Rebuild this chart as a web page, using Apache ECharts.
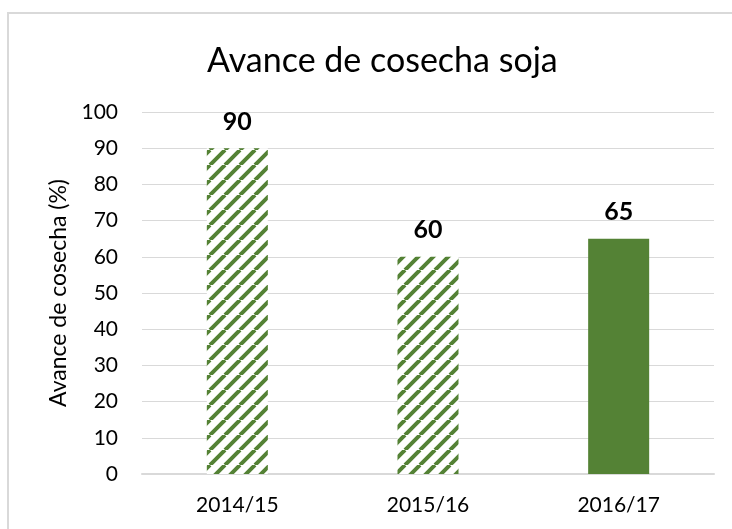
<!DOCTYPE html>
<html>
<head>
<meta charset="utf-8">
<script src="https://cdn.jsdelivr.net/npm/echarts@6/dist/echarts.min.js"></script>
<style>
  html, body { margin: 0; padding: 0; background: #fff; }
  #chart { width: 732px; height: 529px; }
</style>
</head>
<body>
<div id="chart"></div>
<script>
const categories = ['2014/15', '2015/16', '2016/17'];
const values = [90, 60, 65];
const hatched = [true, true, false];

const green = '#548235';

// diagonal stripe tile for the hatched bars
function stripeTile() {
  const n = 15;
  const c = document.createElement('canvas');
  c.width = n; c.height = n;
  const ctx = c.getContext('2d');
  ctx.fillStyle = '#fff';
  ctx.fillRect(0, 0, n, n);
  ctx.strokeStyle = green;
  ctx.lineWidth = 4;
  ctx.beginPath();
  for (let k = -n; k <= n; k += n) {
    ctx.moveTo(k, n);
    ctx.lineTo(k + n, 0);
  }
  ctx.stroke();
  return c;
}
const tile = stripeTile();

const myChart = echarts.init(document.getElementById('chart'));
const font = 'Lato, "Open Sans", sans-serif';

const option = {
  backgroundColor: '#fff',
  textStyle: { fontFamily: font },
  graphic: [{
    type: 'rect',
    shape: { x: 8, y: 13, width: 740, height: 530 },
    style: { fill: 'none', stroke: '#d9d9d9', lineWidth: 2 },
    silent: true
  }],
  title: {
    text: 'Avance de cosecha soja',
    left: 202,
    top: 39,
    textStyle: { fontFamily: font, fontWeight: 'normal', fontSize: 34, color: '#000' }
  },
  grid: { left: 142, right: 18, top: 112, bottom: 55 },
  xAxis: {
    type: 'category',
    data: categories,
    axisLine: { lineStyle: { color: '#d9d9d9', width: 2 } },
    axisTick: { show: false },
    axisLabel: { color: '#000', fontSize: 21, margin: 21, fontFamily: font }
  },
  yAxis: {
    type: 'value',
    min: 0, max: 100, interval: 10,
    name: 'Avance de cosecha (%)',
    nameLocation: 'middle',
    nameGap: 64,
    nameTextStyle: { color: '#000', fontSize: 23, fontFamily: font },
    axisLine: { show: false },
    axisTick: { show: false },
    axisLabel: { color: '#000', fontSize: 21, margin: 24, fontFamily: font },
    splitLine: { lineStyle: { color: '#d9d9d9', width: 1 } }
  },
  series: [{
    type: 'bar',
    barWidth: '32%',
    data: values.map((v, i) => ({
      value: v,
      itemStyle: { color: hatched[i] ? { image: tile, repeat: 'repeat' } : green }
    })),
    label: {
      show: true,
      position: 'top',
      distance: 14,
      color: '#000',
      fontWeight: 'bold',
      fontSize: 25,
      fontFamily: font
    }
  }]
};
myChart.setOption(option);
window.addEventListener('resize', function () { myChart.resize(); });
</script>
</body>
</html>
